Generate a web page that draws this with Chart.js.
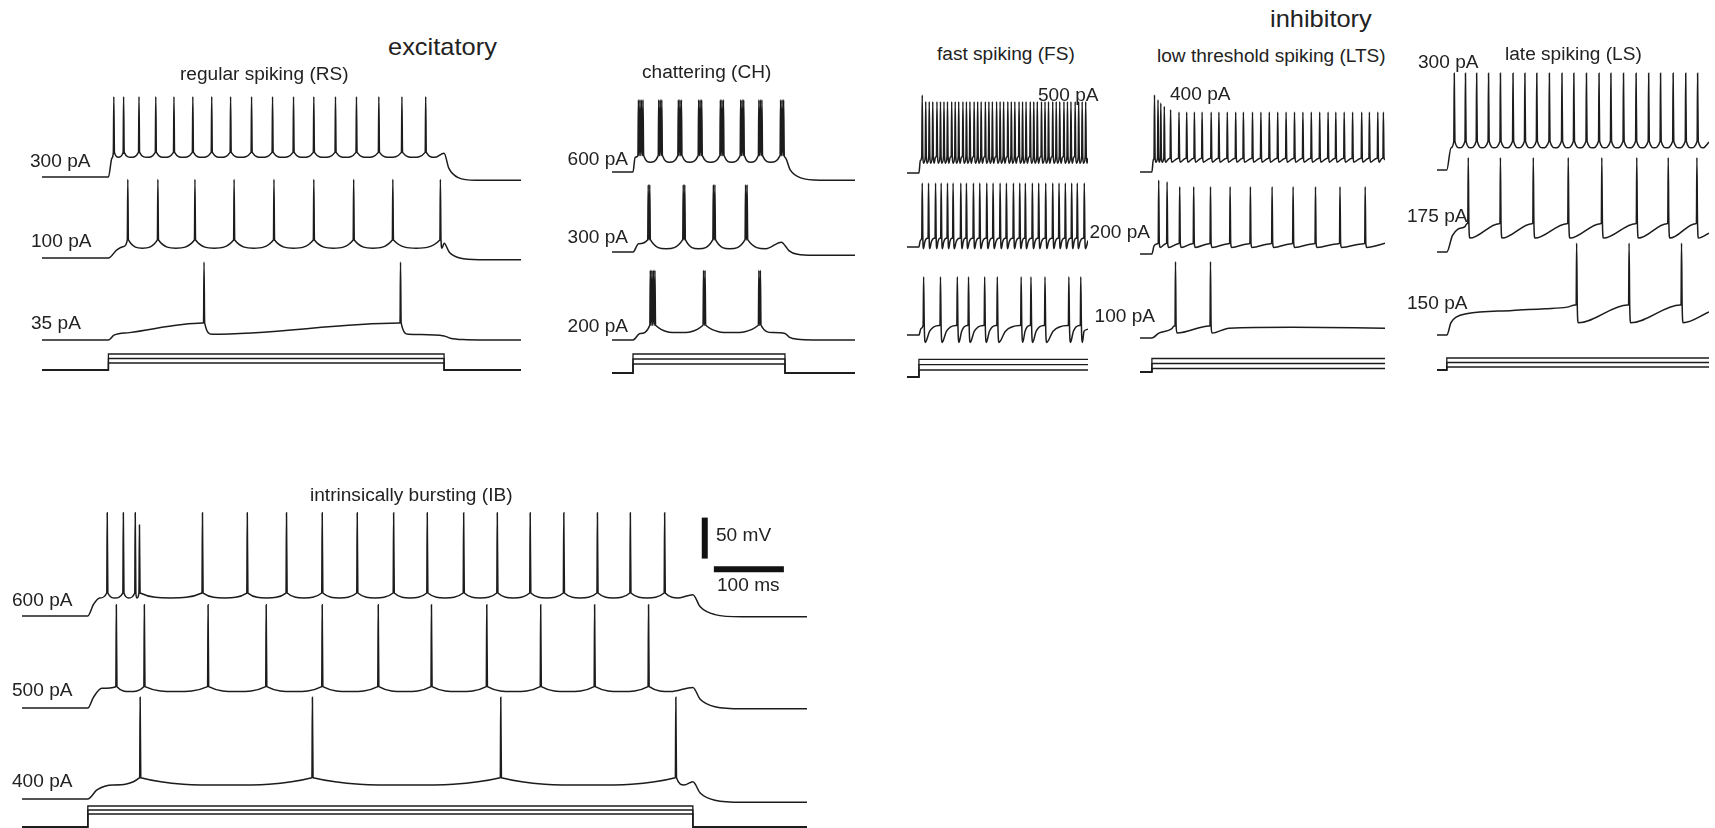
<!DOCTYPE html>
<html>
<head>
<meta charset="utf-8">
<script src="https://cdn.jsdelivr.net/npm/chart.js@4.4.1/dist/chart.umd.min.js"></script>
<style>
html, body { margin: 0; padding: 0; background: #fff; overflow: hidden; }
#fig { position: relative; width: 1715px; height: 828px; }
#fig canvas { position: absolute; }
.lbl { position: absolute; white-space: nowrap; font-family: 'Liberation Sans', Arial, sans-serif; color: #222; line-height: 1; }
</style>
</head>
<body>
<div id="fig"></div>
<script>
// time in ms from current onset, membrane potential in mV
const groups = ['excitatory', 'inhibitory'];
const cellTypes = ['regular spiking (RS)', 'chattering (CH)', 'fast spiking (FS)',
                   'low threshold spiking (LTS)', 'late spiking (LS)', 'intrinsically bursting (IB)'];

// regular spiking
const rsCurrents = [300, 100, 35];
const rsWindow = { start: -95, dur: 480, stop: 590 };
const rs300 = { rest: -70, rise: [[5, -47]], vth: -40, vreset: -46, peak: 28, mode: 'u', endV: -41, after: -74, decay: 45,
  spikes: [7, 21, 43, 67, 93, 120, 147, 174, 204, 234, 264, 293, 324, 354, 386, 419, 453] };
const rs100 = { rest: -70, rise: [[12, -60], [22, -56]], vth: -48, vreset: -58, peak: 26, mode: 'u', endV: -52, after: -72, decay: 50,
  spikes: [27, 70, 123, 179, 236, 293, 350, 406, 474] };
const rs35 = { rest: -70, rise: [[8, -64], [30, -61]], vth: -49, vreset: -63, peak: 25, mode: 'saw', dip: 12, endV: -65, after: -70, decay: 60,
  spikes: [136, 417] };

// chattering
const chCurrents = [600, 300, 200];
const chWindow = { start: -30, dur: 217, stop: 317 };
const ch600 = { rest: -70, rise: [[3, -52]], vth: -50, vreset: -58, peak: 18, mode: 'u', endV: -52, after: -80, decay: 50,
  spikes: [7, 9.2, 11.4, 13.6, 36, 38.2, 40.4, 64, 66.2, 68.4, 93, 95.2, 97.4, 124, 126.2, 128.4,
           153, 155.2, 157.4, 179, 181.2, 183.4, 210, 212.2, 214.4] };
const ch300 = { rest: -70, rise: [[8, -60]], vth: -55, vreset: -66, peak: 12, mode: 'u', endV: -62, after: -74, decay: 40,
  sub: [[212, -58]], spikes: [21, 23.2, 71, 73.2, 114, 116.2, 160, 162.2] };
const ch200 = { rest: -70, rise: [[10, -62]], vth: -52, vreset: -61, peak: 15, mode: 'u', endV: -62, after: -70, decay: 40,
  spikes: [24, 26.2, 28.4, 30.6, 100, 102.2, 179, 181.2] };

// fast spiking
const fsCurrents = [500, 200, 100];
const fsWindow = { start: -17, dur: 241, stop: 241 };
const fs500 = { rest: -70, rise: [[2, -55]], vth: -50, vreset: -58, peak: 17, peaks: [25], mode: 'saw', dip: 2.6, endV: -52,
  spikes: [4, 9, 14, 19, 25, 30, 35, 40, 46, 51, 56, 62, 67, 72, 78, 83, 88, 94, 99, 104, 110, 115, 120,
           126, 131, 136, 142, 147, 152, 158, 163, 168, 174, 179, 184, 190, 195, 200, 206, 211, 216, 222, 227, 232, 237] };
const fs200 = { rest: -70, rise: [[2, -62]], vth: -59, vreset: -72, peak: 8, mode: 'exp', dip: 2.5, endV: -62,
  spikes: [4, 13, 23, 31, 40, 48, 59, 67, 77, 86, 96, 105, 115, 124, 134, 143, 151, 161, 170, 180, 190, 199, 208, 217, 225, 235] };
const fs100 = { rest: -70, rise: [[3, -62]], vth: -58, vreset: -79, peak: 1, mode: 'exp', dip: 3, endV: -63,
  spikes: [6, 30, 54, 70, 93, 111, 145, 159, 179, 213, 230] };

// low threshold spiking
const ltsCurrents = [400, 200, 100];
const ltsWindow = { start: -17, dur: 333, stop: 333 };
const lts400 = { rest: -70, rise: [[2, -55]], vth: -53, vreset: -58, peak: 3, peaks: [24, 18, 14, 10, 6], mode: 'saw', dip: 2.5, endV: -55,
  spikes: [3, 8, 12, 17, 26, 38, 49, 60, 71, 84, 95, 107, 119, 130, 143, 155, 167, 179, 191, 203, 215, 227,
           239, 251, 262, 274, 286, 299, 310, 322, 330] };
const lts200 = { rest: -70, rise: [[3, -60]], vth: -57, vreset: -62, peak: 12, peaks: [20, 18], mode: 'saw', dip: 3, endV: -57,
  spikes: [9, 21, 39, 59, 83, 111, 140, 171, 201, 233, 268, 304] };
const lts100 = { rest: -70, rise: [[10, -64], [28, -59]], vth: -55, vreset: -64, peak: 23, mode: 'saw', dip: 3, endV: -58,
  sub: [[110, -58], [200, -57]], spikes: [33, 83] };

// late spiking
const lsCurrents = [300, 175, 150];
const lsWindow = { start: -14, dur: 375, stop: 375 };
const ls300 = { rest: -70, rise: [[6, -43]], vth: -35, vreset: -43, peak: 48, mode: 'u', endV: -36,
  spikes: [10, 26, 42, 59, 76, 94, 111, 128, 146, 164, 181, 199, 217, 234, 252, 270, 288, 305, 323, 341, 358] };
const ls175 = { rest: -70, rise: [[8, -50], [16, -42], [26, -39]], vth: -35, vreset: -53, peak: 45, mode: 'saw', dip: 3, endV: -47,
  spikes: [30, 76, 123, 173, 221, 271, 316, 357] };
const ls150 = { rest: -70, rise: [[6, -55], [14, -48], [28, -44], [94, -40], [140, -38], [172, -36]], vth: -33, vreset: -55, peak: 42,
  mode: 'saw', dip: 3, endV: -42, spikes: [185, 260, 335] };

// intrinsically bursting
const ibCurrents = [600, 500, 400];
const ibWindow = { start: -94, dur: 864, stop: 1027 };
const ib600 = { rest: -70, rise: [[8, -56], [17, -48]], vth: -42, vreset: -48, peak: 56, peaks: [56, 56, 56, 41], mode: 'u',
  endV: -44, after: -71, decay: 70,
  spikes: [27, 50, 67, 73, 163, 227, 283, 334, 384, 436, 484, 536, 584, 631, 679, 727, 774, 823] };
const ib500 = { rest: -70, rise: [[8, -57], [20, -46]], vth: -44, vreset: -50, peak: 56, mode: 'u', endV: -45, after: -71, decay: 70,
  spikes: [40, 80, 171, 254, 334, 414, 490, 569, 646, 723, 800] };
const ib400 = { rest: -70, rise: [[13, -59], [36, -53]], vth: -44, vreset: -53, peak: 54, mode: 'u', endV: -49, after: -74, decay: 70,
  spikes: [74, 320, 589, 839] };

const scaleBarMv = 50;
const scaleBarMs = 100;

// ---- layout (pixels) ----
const PX_PER_MS = 0.7;
const PX_PER_MV = 0.82;
const INK = '#1c1c1c';
const layout = {
  rs:  { onset: 108,  top: 85,  bottom: 382, rest: [177, 258, 340], stimBase: 370, stimLift: 7,   stimGap: 4.5 },
  ch:  { onset: 633,  top: 90,  bottom: 382, rest: [172, 252, 340], stimBase: 373, stimLift: 9,   stimGap: 5 },
  fs:  { onset: 919,  top: 85,  bottom: 385, rest: [173, 247, 335], stimBase: 377, stimLift: 7,   stimGap: 5.3 },
  lts: { onset: 1152, top: 85,  bottom: 385, rest: [172, 254, 338], stimBase: 372, stimLift: 3.5, stimGap: 5 },
  ls:  { onset: 1447, top: 65,  bottom: 382, rest: [170, 252, 335], stimBase: 370, stimLift: 3,   stimGap: 4.5 },
  ib:  { onset: 88,   top: 505, bottom: 828, rest: [616, 708, 799], stimBase: 827, stimLift: 13,  stimGap: 4,
         bar: { t: 881, v: 0, tH: 894, vH: -13 } }
};

const labels = [
  [groups[0], 388, 55, 24], [groups[1], 1270, 27, 24],
  [cellTypes[0], 180, 80, 18], [cellTypes[1], 642, 78, 18], [cellTypes[2], 937, 60, 18],
  [cellTypes[3], 1157, 62, 18], [cellTypes[4], 1505, 60, 18], [cellTypes[5], 310, 501, 18],
  [rsCurrents[0] + ' pA', 30, 167, 18], [rsCurrents[1] + ' pA', 31, 247, 18], [rsCurrents[2] + ' pA', 31, 329, 18],
  [chCurrents[0] + ' pA', 628, 165, 18, 'r'], [chCurrents[1] + ' pA', 628, 243, 18, 'r'], [chCurrents[2] + ' pA', 628, 332, 18, 'r'],
  [fsCurrents[0] + ' pA', 1038, 101, 18], [fsCurrents[1] + ' pA', 1150, 238, 18, 'r'], [fsCurrents[2] + ' pA', 1155, 322, 18, 'r'],
  [ltsCurrents[0] + ' pA', 1170, 100, 18],
  [lsCurrents[0] + ' pA', 1418, 68, 18], [lsCurrents[1] + ' pA', 1407, 222, 18], [lsCurrents[2] + ' pA', 1407, 309, 18],
  [ibCurrents[0] + ' pA', 12, 606, 18], [ibCurrents[1] + ' pA', 12, 696, 18], [ibCurrents[2] + ' pA', 12, 787, 18],
  [scaleBarMv + ' mV', 716, 541, 18], [scaleBarMs + ' ms', 717, 591, 18]
];

const panels = [
  { key: 'rs', currents: rsCurrents, win: rsWindow, traces: [rs300, rs100, rs35] },
  { key: 'ch', currents: chCurrents, win: chWindow, traces: [ch600, ch300, ch200] },
  { key: 'fs', currents: fsCurrents, win: fsWindow, traces: [fs500, fs200, fs100] },
  { key: 'lts', currents: ltsCurrents, win: ltsWindow, traces: [lts400, lts200, lts100] },
  { key: 'ls', currents: lsCurrents, win: lsWindow, traces: [ls300, ls175, ls150] },
  { key: 'ib', currents: ibCurrents, win: ibWindow, traces: [ib600, ib500, ib400] }
];

function tracePoints(tr, win) {
  const pts = [{ x: win.start, y: tr.rest }, { x: 0, y: tr.rest }];
  tr.rise.forEach(([t, v]) => pts.push({ x: t, y: v }));
  (tr.sub || []).forEach(([t, v]) => pts.push({ x: t, y: v }));
  const dip = tr.dip || 3;
  tr.spikes.forEach((t, i) => {
    const peak = tr.peaks && tr.peaks[i] !== undefined ? tr.peaks[i] : tr.peak;
    const prev = i > 0 ? tr.spikes[i - 1] : 0;
    const next = i + 1 < tr.spikes.length ? tr.spikes[i + 1] : win.dur;
    // ramps (not U-shaped troughs) get a short straight lead-in to the upstroke
    if (tr.mode !== 'u' && t - prev > dip + 3) pts.push({ x: t - 1.2, y: tr.vth - 0.4 });
    pts.push({ x: t, y: tr.vth }, { x: t + 0.7, y: peak }, { x: t + 1.6, y: tr.vth });
    const gap = next - t;
    if (gap <= dip + 0.5) return;
    if (tr.mode === 'u') {
      pts.push({ x: t + gap / 2, y: tr.vreset });
    } else {
      pts.push({ x: t + dip, y: tr.vreset });
      if (tr.mode === 'exp' && gap > dip * 3) {
        pts.push({ x: t + dip + (gap - dip) * 0.3, y: tr.vreset + (tr.vth - tr.vreset) * 0.65 });
      }
    }
  });
  if (win.dur < win.stop) {
    const e = tr.endV, a = tr.after, d = tr.decay;
    pts.push({ x: win.dur, y: e });
    [[0.15, 0.55], [0.45, 0.9], [1, 1]].forEach(([f, g]) => {
      if (win.dur + d * f < win.stop) pts.push({ x: win.dur + d * f, y: e + (a - e) * g });
    });
    pts.push({ x: win.stop, y: a });
  } else {
    pts.push({ x: win.stop, y: tr.endV });
  }
  pts.sort((p, q) => p.x - q.x);
  for (let i = 1; i < pts.length; i++) {
    if (pts[i].x <= pts[i - 1].x) pts[i].x = pts[i - 1].x + 0.01;
  }
  return pts;
}

function stimPoints(h, win) {
  const pts = [{ x: win.start, y: 0 }, { x: 0, y: 0 }, { x: 0, y: h }];
  if (win.dur < win.stop) {
    pts.push({ x: win.dur, y: h }, { x: win.dur, y: 0 }, { x: win.stop, y: 0 });
  } else {
    pts.push({ x: win.stop, y: h });
  }
  return pts;
}

const fig = document.getElementById('fig');

function drawPanel(p) {
  const L = layout[p.key], w = p.win, pad = 4;
  const cv = document.createElement('canvas');
  const left = L.onset + w.start * PX_PER_MS;
  const width = (w.stop - w.start) * PX_PER_MS;
  cv.width = Math.round(width + 2 * pad);
  cv.height = Math.round(L.bottom - L.top + 2 * pad);
  cv.style.left = (left - pad) + 'px';
  cv.style.top = (L.top - pad) + 'px';
  fig.appendChild(cv);

  const scales = { x: { type: 'linear', display: false, min: w.start, max: w.stop } };
  const datasets = [];
  const line = { borderColor: INK, borderWidth: 1.5, pointRadius: 0, showLine: true, fill: false };

  p.traces.forEach((tr, i) => {
    const id = 'v' + i;
    const restPx = L.rest[i];
    scales[id] = { type: 'linear', display: false,
      min: tr.rest + (restPx - L.bottom) / PX_PER_MV, max: tr.rest + (restPx - L.top) / PX_PER_MV };
    datasets.push({ ...line, data: tracePoints(tr, w), yAxisID: id, cubicInterpolationMode: 'monotone' });
  });

  // current steps, stacked by size
  scales.s = { type: 'linear', display: false, min: L.stimBase - L.bottom, max: L.stimBase - L.top };
  const order = [...p.currents].sort((a, b) => a - b);
  p.currents.forEach(c => {
    const h = L.stimLift + order.indexOf(c) * L.stimGap;
    datasets.push({ ...line, borderWidth: 1.3, data: stimPoints(h, w), yAxisID: 's', tension: 0 });
  });

  if (L.bar) {
    const b = L.bar;
    datasets.push({ ...line, borderWidth: 6, borderColor: '#111', yAxisID: 'v0', tension: 0,
      data: [{ x: b.t, y: b.v }, { x: b.t, y: b.v + scaleBarMv }] });
    datasets.push({ ...line, borderWidth: 6, borderColor: '#111', yAxisID: 'v0', tension: 0,
      data: [{ x: b.tH, y: b.vH }, { x: b.tH + scaleBarMs, y: b.vH }] });
  }

  new Chart(cv, {
    type: 'scatter',
    data: { datasets },
    options: {
      responsive: false,
      animation: false,
      devicePixelRatio: 1,
      events: [],
      layout: { padding: pad },
      plugins: { legend: { display: false }, tooltip: { enabled: false } },
      scales
    }
  });
}

panels.forEach(drawPanel);

labels.forEach(([text, x, base, size, align]) => {
  const d = document.createElement('div');
  d.className = 'lbl';
  d.textContent = text;
  d.style.fontSize = size + 'px';
  d.style.top = (base - 0.8465 * size) + 'px';
  if (align === 'r') {
    d.style.right = (1715 - x) + 'px';
    d.style.transformOrigin = 'right top';
  } else {
    d.style.left = x + 'px';
    d.style.transformOrigin = 'left top';
  }
  d.style.transform = 'scaleX(1.06)';
  fig.appendChild(d);
});
</script>
</body>
</html>
